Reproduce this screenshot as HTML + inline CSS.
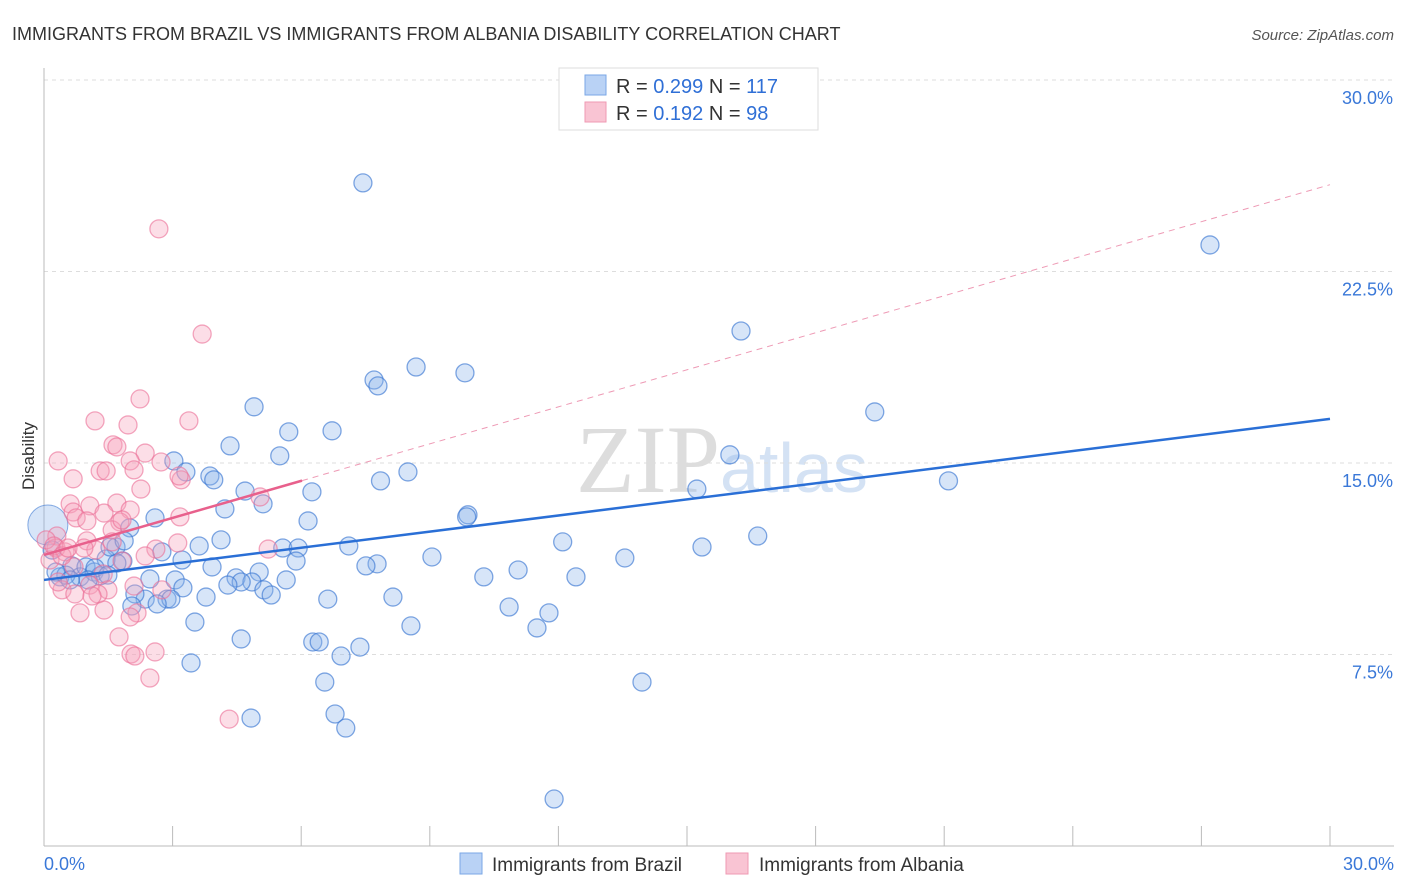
<!DOCTYPE html>
<html><head><meta charset="utf-8">
<style>
body{margin:0;background:#fff;font-family:"Liberation Sans",sans-serif;}
#wrap{position:relative;width:1406px;height:892px;overflow:hidden;}
</style></head>
<body>
<div id="wrap">
<svg id="chart" width="1406" height="892">
<text x="12" y="40" font-size="18" fill="#333">IMMIGRANTS FROM BRAZIL VS IMMIGRANTS FROM ALBANIA DISABILITY CORRELATION CHART</text>
<text x="1394" y="40" font-size="15" fill="#555" font-style="italic" text-anchor="end">Source: ZipAtlas.com</text>
<text x="34" y="456" font-size="17" fill="#333" text-anchor="middle" transform="rotate(-90 34 456)">Disability</text>
<text x="720" y="492" font-size="96" fill="#ddd" font-family="Liberation Serif" text-anchor="end">ZIP</text>
<text x="720" y="492" font-size="70" fill="#d4e2f4">atlas</text>
<g id="grid"></g>
<g id="pts"></g>
<g id="lines"></g>
<g>
<rect x="559" y="68" width="259" height="62" fill="#fff" stroke="#ddd"/>
<rect x="585" y="75" width="21" height="20" fill="#b9d2f5" stroke="#7aa7e6"/>
<rect x="585" y="102" width="21" height="20" fill="#f9c4d3" stroke="#ef9ab3"/>
<text x="616" y="93" font-size="20" fill="#333">R = <tspan fill="#2f6fd6">0.299</tspan>  N = <tspan fill="#2f6fd6">117</tspan></text>
<text x="616" y="120" font-size="20" fill="#333">R =  <tspan fill="#2f6fd6">0.192</tspan>   N =  <tspan fill="#2f6fd6">98</tspan></text>
</g>
<g>
<rect x="460" y="853" width="22" height="21" fill="#b9d2f5" stroke="#7aa7e6"/>
<text x="492" y="871" font-size="19" fill="#333">Immigrants from Brazil</text>
<rect x="726" y="853" width="22" height="21" fill="#f9c4d3" stroke="#ef9ab3"/>
<text x="759" y="871" font-size="19" fill="#333">Immigrants from Albania</text>
</g>
</svg>
</div>
<script>
const yTicks=[7.5,15,22.5,30];
const yTickLabels=["7.5%","15.0%","22.5%","30.0%"];
const xTickLabels=["0.0%","30.0%"];
const brazilX=[7.44,27.2,16.26,7.70,7.79,8.68,9.82,19.38,4.90,6.72,5.71,4.34,5.50,16.0,8.49,7.85,21.1,15.23,3.03,3.31,3.87,3.96,4.69,6.25,5.11,4.22,9.89,9.86,2.59,6.16,2.0,16.65,4.13,12.1,15.35,7.11,5.57,5.93,2.75,3.62,1.68,13.55,9.05,5.88,7.77,7.51,3.22,11.06,12.41,10.26,5.02,4.48,3.92,5.65,4.85,4.60,3.06,2.47,3.24,4.29,5.13,5.30,8.14,6.62,3.78,2.87,2.96,2.36,2.12,2.64,10.85,11.78,2.05,3.52,8.56,11.5,4.60,6.27,6.42,7.37,6.93,3.43,13.95,6.55,4.83,6.79,7.04,11.9,0.37,0.65,0.84,0.98,1.17,1.31,1.45,1.54,1.87,1.84,1.70,1.19,0.51,0.28,1.03,1.49,0.19,0.61];
const brazilY=[25.97,23.54,20.17,18.25,18.02,18.76,18.53,17.0,17.2,16.26,16.22,15.67,15.28,15.32,14.65,14.30,14.30,13.98,15.08,14.65,14.49,14.34,13.9,13.87,13.4,13.2,12.97,12.89,12.85,12.73,12.46,12.14,11.99,11.91,11.71,11.75,11.67,11.67,11.52,11.75,11.71,11.28,11.32,11.16,11.05,10.97,11.2,10.81,10.54,10.54,10.73,10.50,10.93,10.42,10.34,10.34,10.42,10.46,10.11,10.22,10.03,9.83,9.75,9.67,9.75,9.67,9.67,9.67,9.87,9.48,9.36,9.13,9.4,8.77,8.62,8.54,8.11,7.99,7.99,7.79,7.44,7.17,6.42,6.42,5.01,5.17,4.62,1.84,10.54,10.97,10.54,10.93,10.73,10.58,11.24,11.71,11.95,11.16,11.08,10.89,10.61,10.73,10.42,10.61,11.59,10.42];
const albaniaX=[2.68,3.69,2.24,1.19,1.96,3.38,1.61,1.70,2.36,0.33,2.73,2.01,1.31,1.45,2.10,0.68,3.20,3.15,2.26,5.04,0.61,1.07,1.70,0.68,0.75,1.40,2.01,3.17,1.77,1.00,1.59,0.30,1.0,3.12,1.21,5.23,2.61,2.36,0.28,0.49,0.14,1.82,0.70,1.38,1.07,0.42,1.49,1.26,2.75,0.72,2.10,0.84,1.40,2.17,2.01,1.75,2.03,2.59,2.12,2.47,4.32,0.05,0.23,0.42,0.56,0.93,0.33,1.12,1.59,1.82];
const albaniaY=[24.17,20.05,17.51,16.65,16.49,16.65,15.71,15.63,15.39,15.08,15.04,15.08,14.69,14.69,14.73,14.38,14.34,14.49,13.98,13.67,13.40,13.32,13.43,13.08,12.85,13.04,13.16,12.89,12.69,12.73,12.38,12.14,11.95,11.87,11.59,11.63,11.63,11.36,11.67,11.52,11.2,11.16,10.93,10.65,10.22,10.03,10.03,9.87,10.03,9.87,10.18,9.13,9.24,9.13,8.97,8.19,7.52,7.60,7.44,6.58,4.97,11.99,11.75,11.36,11.67,11.67,10.34,9.79,11.91,12.77];
const brazilFit=[10.42,16.73];
const albaniaFit=[11.4,25.9];
const albaniaSolidEnd=6.02;

const X0=44,X1=1330,Y0=846,PPY=766/30;
const sx=v=>X0+(v/30)*(X1-X0);
const sy=v=>Y0-v*PPY;
const NS="http://www.w3.org/2000/svg";
function mk(tag,attrs,parent){const e=document.createElementNS(NS,tag);for(const k in attrs)e.setAttribute(k,attrs[k]);parent.appendChild(e);return e;}
const grid=document.getElementById('grid');
yTicks.forEach((t,i)=>{
  const l=mk('line',{x1:X0,x2:1394,y1:sy(t),y2:sy(t),stroke:'#ddd','stroke-dasharray':'4,4'},grid);
  
  
  const tx=mk('text',{x:1393,y:sy(t)+24,'font-size':18,fill:'#3a78d8','text-anchor':'end'},grid);
  tx.textContent=yTickLabels[i];
  
  
});
const ax=mk('line',{x1:X0,x2:X0,y1:68,y2:Y0,stroke:'#bbb'},grid);


const bx=mk('line',{x1:X0,x2:1394,y1:Y0,y2:Y0,stroke:'#bbb'},grid);


for(let i=0;i<=10;i++){
  const xv=i*3;
  const tk=mk('line',{x1:sx(xv),x2:sx(xv),y1:Y0,y2:Y0-20,stroke:'#bbb'},grid);
  
  
}
const xl0=mk('text',{x:44,y:870,'font-size':18,fill:'#3a78d8'},grid);
xl0.textContent=xTickLabels[0];


const xl1=mk('text',{x:1394,y:870,'font-size':18,fill:'#3a78d8','text-anchor':'end'},grid);
xl1.textContent=xTickLabels[1];



const pts=document.getElementById('pts');
const big=mk('circle',{cx:sx(0.09),cy:sy(12.57),r:20,fill:'rgba(140,180,235,0.35)',stroke:'rgba(60,120,210,0.6)'},pts);


brazilX.forEach((v,i)=>{
  const c=mk('circle',{cx:sx(v),cy:sy(brazilY[i]),r:9,fill:'rgba(140,180,235,0.35)',stroke:'rgba(60,120,210,0.65)','stroke-width':1.3},pts);
  
  
});
albaniaX.forEach((v,i)=>{
  const c=mk('circle',{cx:sx(v),cy:sy(albaniaY[i]),r:9,fill:'rgba(245,160,185,0.35)',stroke:'rgba(235,110,150,0.6)','stroke-width':1.3},pts);
  
  
});
const lines=document.getElementById('lines');
const bl=mk('line',{x1:sx(0),y1:sy(brazilFit[0]),x2:sx(30),y2:sy(brazilFit[1]),stroke:'#2a6fd6','stroke-width':2.5},lines);


const aAt=x=>albaniaFit[0]+(albaniaFit[1]-albaniaFit[0])*x/30;
const ad=mk('line',{x1:sx(albaniaSolidEnd),y1:sy(aAt(albaniaSolidEnd)),x2:sx(30),y2:sy(albaniaFit[1]),stroke:'#ee9ab5','stroke-width':1,'stroke-dasharray':'6,5'},lines);


const al=mk('line',{x1:sx(0),y1:sy(albaniaFit[0]),x2:sx(albaniaSolidEnd),y2:sy(aAt(albaniaSolidEnd)),stroke:'#e8608c','stroke-width':2.5},lines);


</script>
</body></html>
